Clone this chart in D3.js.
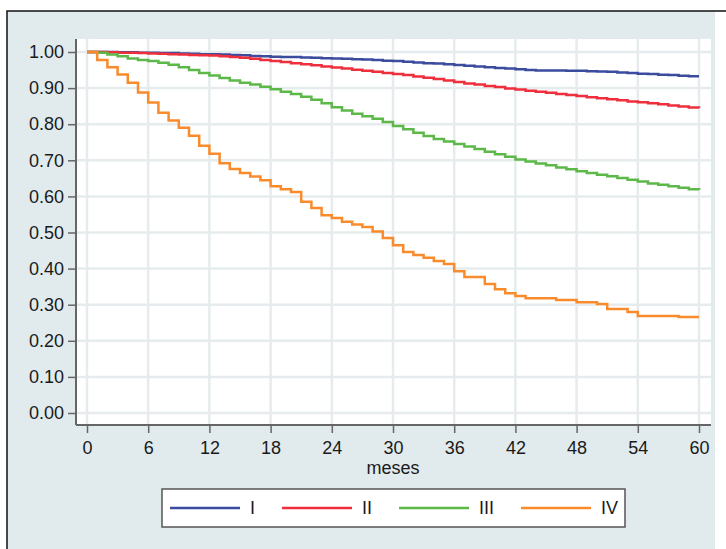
<!DOCTYPE html>
<html>
<head>
<meta charset="utf-8">
<script src="https://cdn.jsdelivr.net/npm/d3@7"></script>
<style>
  body { margin: 0; background: #fff; }
  text { font-family: "Liberation Sans", Arial, sans-serif; fill: #1a1a1a; }
</style>
</head>
<body>
<div class="chart"></div>
<script>
// months 0..60 for the monthly series
var months = d3.range(0, 61);

var survI = [1.000, 1.000, 1.000, 0.999, 0.999, 0.998, 0.998, 0.997, 0.997, 0.996,
  0.995, 0.994, 0.994, 0.993, 0.992, 0.991, 0.989, 0.988, 0.987, 0.986,
  0.986, 0.985, 0.984, 0.983, 0.982, 0.981, 0.980, 0.979, 0.978, 0.976,
  0.975, 0.973, 0.971, 0.969, 0.968, 0.966, 0.964, 0.962, 0.960, 0.958,
  0.956, 0.954, 0.952, 0.950, 0.949, 0.949, 0.949, 0.948, 0.948, 0.947,
  0.946, 0.945, 0.943, 0.942, 0.940, 0.939, 0.937, 0.936, 0.934, 0.933, 0.933];

var survII = [1.000, 1.000, 0.999, 0.998, 0.998, 0.997, 0.996, 0.995, 0.994, 0.993,
  0.992, 0.991, 0.990, 0.988, 0.986, 0.984, 0.981, 0.978, 0.975, 0.972,
  0.969, 0.966, 0.963, 0.960, 0.957, 0.954, 0.951, 0.948, 0.945, 0.942,
  0.939, 0.936, 0.932, 0.929, 0.925, 0.921, 0.917, 0.913, 0.910, 0.906,
  0.903, 0.899, 0.896, 0.893, 0.890, 0.887, 0.884, 0.881, 0.878, 0.875,
  0.872, 0.869, 0.866, 0.863, 0.861, 0.858, 0.855, 0.852, 0.849, 0.846, 0.844];

var survIII = [1.000, 0.998, 0.993, 0.988, 0.982, 0.978, 0.975, 0.970, 0.965, 0.958,
  0.950, 0.942, 0.935, 0.928, 0.921, 0.915, 0.910, 0.904, 0.897, 0.890,
  0.884, 0.876, 0.868, 0.858, 0.847, 0.838, 0.829, 0.822, 0.815, 0.806,
  0.795, 0.786, 0.776, 0.767, 0.759, 0.752, 0.745, 0.738, 0.731, 0.724,
  0.717, 0.710, 0.702, 0.697, 0.691, 0.686, 0.680, 0.675, 0.670, 0.665,
  0.660, 0.656, 0.651, 0.646, 0.641, 0.636, 0.632, 0.628, 0.624, 0.620, 0.618];

// stage IV has its own event times
var timesIV = [0, 1, 2, 3, 4, 5, 6, 7, 8, 9, 10, 11, 12, 13, 14, 15, 16, 17, 18, 19,
  20, 21, 22, 23, 24, 25, 26, 27, 28, 29, 30, 31, 32, 33, 34, 35, 36, 37, 39, 40,
  41, 42, 43, 46, 48, 50, 51, 53, 54, 58, 60];
var survIV = [1.000, 0.978, 0.958, 0.938, 0.915, 0.888, 0.860, 0.832, 0.810, 0.790,
  0.768, 0.740, 0.718, 0.692, 0.676, 0.665, 0.655, 0.645, 0.628, 0.620,
  0.612, 0.585, 0.568, 0.548, 0.540, 0.530, 0.522, 0.515, 0.503, 0.485,
  0.465, 0.446, 0.438, 0.430, 0.421, 0.413, 0.393, 0.377, 0.357, 0.343,
  0.332, 0.324, 0.318, 0.313, 0.307, 0.302, 0.288, 0.280, 0.269, 0.266, 0.266];

var seriesNames = ["I", "II", "III", "IV"];
var seriesColors = ["#3b4b9e", "#ef2f3c", "#5cb848", "#f98b2c"];

var xTicks = [0, 6, 12, 18, 24, 30, 36, 42, 48, 54, 60];
var yTicks = [0, 0.1, 0.2, 0.3, 0.4, 0.5, 0.6, 0.7, 0.8, 0.9, 1.0];

var svgWidth = 726;
var svgHeight = 549;

var plot = { left: 77, right: 711, top: 39, bottom: 425 };

var svg = d3.select(".chart")
  .append("svg")
  .attr("width", svgWidth)
  .attr("height", svgHeight);

// outer panel
svg.append("rect")
  .attr("x", 7).attr("y", 11)
  .attr("width", 708).attr("height", svgHeight - 11)
  .attr("fill", "#e1ebee");

svg.append("path")
  .attr("d", `M7,${svgHeight} L7,11 L${svgWidth},11`)
  .attr("fill", "none")
  .attr("stroke", "#111")
  .attr("stroke-width", 1.5);

// plot area
svg.append("rect")
  .attr("x", plot.left).attr("y", plot.top)
  .attr("width", plot.right - plot.left)
  .attr("height", plot.bottom - plot.top)
  .attr("fill", "#fff");

var x = d3.scaleLinear().domain([0, 60]).range([87, 699]);
var y = d3.scaleLinear().domain([0, 1]).range([413, 52]);

// grid
var grid = svg.append("g").attr("stroke", "#e6ecee").attr("stroke-width", 2.5);
grid.selectAll(".gx")
  .data(xTicks)
  .enter()
  .append("line")
  .attr("x1", d => x(d)).attr("x2", d => x(d))
  .attr("y1", plot.top).attr("y2", plot.bottom);
grid.selectAll(".gy")
  .data(yTicks)
  .enter()
  .append("line")
  .attr("x1", plot.left).attr("x2", plot.right)
  .attr("y1", d => y(d)).attr("y2", d => y(d));

// curves
var line = d3.line()
  .x(d => x(d[0]))
  .y(d => y(d[1]))
  .curve(d3.curveStepAfter);

var curveData = [
  months.map((m, i) => [m, survI[i]]),
  months.map((m, i) => [m, survII[i]]),
  months.map((m, i) => [m, survIII[i]]),
  timesIV.map((t, i) => [t, survIV[i]])
];

svg.append("g")
  .selectAll("path")
  .data(curveData)
  .enter()
  .append("path")
  .attr("d", d => line(d))
  .attr("fill", "none")
  .attr("stroke", (d, i) => seriesColors[i])
  .attr("stroke-width", 2.5);

// axes
var leftAxis = d3.axisLeft(y)
  .tickValues(yTicks)
  .tickFormat(d3.format(".2f"))
  .tickSize(8)
  .tickSizeOuter(0)
  .tickPadding(4);

var bottomAxis = d3.axisBottom(x)
  .tickValues(xTicks)
  .tickSize(8)
  .tickSizeOuter(0)
  .tickPadding(8);

var yAxis = svg.append("g")
  .attr("transform", `translate(${plot.left - 1}, 0)`)
  .call(leftAxis);

var xAxis = svg.append("g")
  .attr("transform", `translate(0, ${plot.bottom})`)
  .call(bottomAxis);

[yAxis, xAxis].forEach(function (ax) {
  ax.selectAll("text")
    .attr("font-size", "18px")
    .attr("font-family", "Liberation Sans, Arial, sans-serif")
    .attr("fill", "#1a1a1a");
  ax.selectAll("line").attr("stroke", "#666").attr("stroke-width", 1.5);
  ax.select(".domain").attr("stroke", "#666").attr("stroke-width", 2);
});

// redraw domain lines across the full plot
yAxis.select(".domain").attr("d", `M0,${plot.top}V${plot.bottom}`);
xAxis.select(".domain").attr("d", `M${plot.left - 1},0H${plot.right}`);

svg.append("text")
  .attr("x", x(30))
  .attr("y", 474)
  .attr("text-anchor", "middle")
  .attr("font-size", "18px")
  .text("meses");

// legend
var legend = svg.append("g");
legend.append("rect")
  .attr("x", 162).attr("y", 489)
  .attr("width", 463).attr("height", 38)
  .attr("fill", "#fff")
  .attr("stroke", "#555")
  .attr("stroke-width", 1.5);

var lx = 170;
seriesNames.forEach(function (name, i) {
  legend.append("line")
    .attr("x1", lx).attr("x2", lx + 70)
    .attr("y1", 508).attr("y2", 508)
    .attr("stroke", seriesColors[i])
    .attr("stroke-width", 2.5);
  var t = legend.append("text")
    .attr("x", lx + 80)
    .attr("y", 514)
    .attr("font-size", "18px")
    .text(name);
  lx = lx + 80 + t.node().getComputedTextLength() + 27;
});
</script>
</body>
</html>
